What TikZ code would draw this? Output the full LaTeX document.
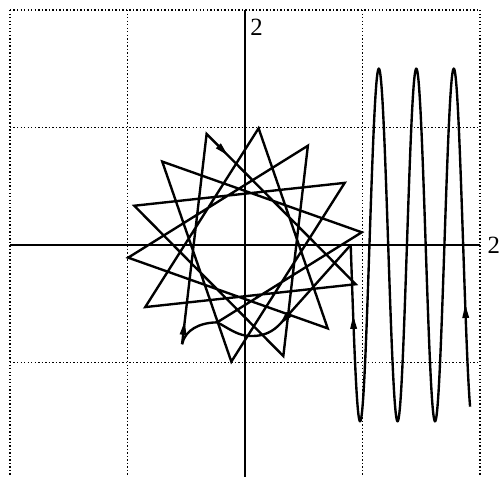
\documentclass[tikz,border=0pt]{standalone}
\usepackage{fontspec}
\setmainfont{Liberation Serif}
\usetikzlibrary{calc}
\newcommand\myarrowhead[2]{\fill[shift={#1},rotate=#2] (0,0) -- (-0.11,0.03) -- (-0.11,-0.03) -- cycle;}
\begin{document}
\begin{tikzpicture}[x=2cm,y=2cm,
  gridline/.style={densely dotted, line width=0.7pt},
  axisline/.style={line width=1pt},
  curve/.style={line width=1.15pt},
  lbl/.style={inner sep=0pt, font=\fontsize{12}{14}\selectfont}]
\useasboundingbox (-2.085,-1.974) rectangle (2.162,2.085);
% grid
\foreach \gx in {-2,-1,1,2} \draw[gridline] (\gx,2) -- (\gx,-1.974);
\foreach \gy in {2,1,-1} \draw[gridline] (-2,\gy) -- (2,\gy);
% axes
\draw[axisline] (-2,0) -- (2,0);
\draw[axisline] (0,2) -- (0,-1.974);
\node[lbl, anchor=north west] (ylab) at (0.043,1.93) {2};
\node[lbl, anchor=west] (xlab) at (2.062,0) {2};
% star vertices
\foreach \k in {0,...,13} \coordinate (k\k) at ({6.2+25.714*\k}:1);
\coordinate (H) at ($(k0)!0.805!(k9)$);
\coordinate (S) at (0.9,0);
% star
\draw[curve] (k9) -- (k4) -- (k13) -- (k8) -- (k3) -- (k12) -- (k7) -- (k2)
  -- (k11) -- (k6) -- (k1) -- (k10) -- (k5) -- (k0) -- (H);
% transition from the oscillation into the star
\draw[curve] (S) -- (0.31,-0.66) .. controls (0.24,-0.74) and (0.16,-0.775) .. (0.06,-0.775)
  .. controls (-0.06,-0.78) and (-0.15,-0.70) .. (H)
  .. controls (-0.38,-0.66) and (-0.51,-0.72) .. (k9);
% oscillation
\draw[curve] plot[domain=1.916:0.9, samples=400] (\x,{-1.5*sin(360*(\x-0.9)/0.319)});
% arrowheads
\myarrowhead{(-0.514,-0.655)}{83.3}
\myarrowhead{(-0.149,0.766)}{-45.2}
\myarrowhead{(0.30,-0.672)}{228}
\myarrowhead{(0.921,-0.604)}{92.1}
\myarrowhead{(1.875,-0.511)}{92}
\end{tikzpicture}
\end{document}
